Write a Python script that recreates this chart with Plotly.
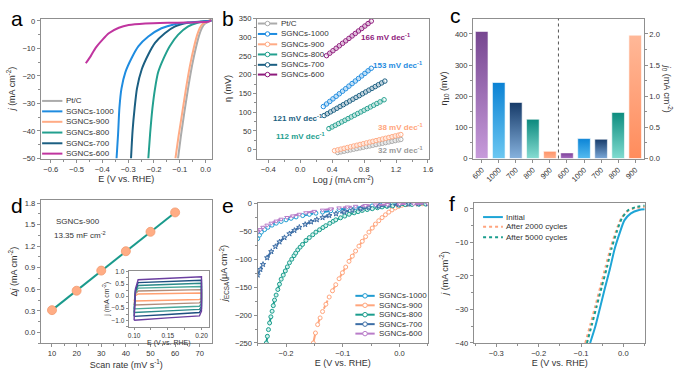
import plotly.graph_objects as go

W, H = 689, 376
FONT = "Liberation Sans, Arial, sans-serif"
FRAME = "#8f8f8f"
TXT = "#333333"


def PX(x):
    return x / W


def PY(y):
    return 1 - y / H


# ---------------- (a) LSV: E (V vs RHE), j (mA cm-2) ----------------
a_E_ptc = [-0.107, -0.096, -0.082, -0.067, -0.052, -0.037, -0.025, -0.014, -0.002, 0.012, 0.023]
a_j_ptc = [-50, -42, -33, -24, -16, -9.5, -5.2, -2.5, -1.0, -0.3, 0.5]
a_E_1000 = [-0.345, -0.339, -0.334, -0.326, -0.311, -0.286, -0.260, -0.222, -0.171, -0.120, -0.069, -0.005, 0.023]
a_j_1000 = [-50, -41, -31.7, -24.6, -18.7, -13.4, -9.2, -5.7, -2.7, -1.2, -0.6, -0.25, 0]
a_E_900 = [-0.117, -0.105, -0.090, -0.075, -0.060, -0.045, -0.033, -0.022, -0.010, 0.005, 0.023]
a_j_900 = [-50, -42, -33, -24, -16, -9.5, -5.2, -2.5, -1.0, -0.3, 0.5]
a_E_800 = [-0.222, -0.215, -0.206, -0.196, -0.184, -0.164, -0.139, -0.107, -0.069, -0.031, 0.023]
a_j_800 = [-50, -41, -31.7, -24.6, -18.7, -13.9, -9.2, -5.1, -2.1, -0.7, 0]
a_E_700 = [-0.289, -0.283, -0.275, -0.266, -0.247, -0.222, -0.196, -0.158, -0.120, -0.069, -0.018, 0.023]
a_j_700 = [-50, -40, -31.7, -24.6, -17.5, -12.2, -8.0, -4.5, -2.1, -0.7, -0.25, 0]
a_E_600 = [-0.464, -0.445, -0.426, -0.400, -0.375, -0.336, -0.298, -0.234, -0.145, -0.069, 0.008, 0.023]
a_j_600 = [-15.4, -12.8, -9.8, -6.9, -4.5, -2.5, -1.5, -0.95, -0.7, -0.6, -0.35, 0.2]

# ---------------- (b) Tafel: log j, eta (mV) ----------------
b_x_ptc = [0.47, 0.51, 0.55, 0.59, 0.63, 0.67, 0.71, 0.75, 0.79, 0.83, 0.87, 0.91, 0.95, 0.99, 1.03, 1.07, 1.11, 1.15, 1.19, 1.23, 1.26]
b_y_ptc = [-8, -6.2, -4.5, -2.7, -0.9, 0.9, 2.6, 4.4, 6.2, 8.0, 9.7, 11.5, 13.3, 15.0, 16.8, 18.6, 20.4, 22.1, 23.9, 25.7, 27.0]
b_x_900 = [0.43, 0.47, 0.51, 0.55, 0.59, 0.63, 0.67, 0.71, 0.75, 0.79, 0.83, 0.87, 0.91, 0.95, 0.99, 1.03, 1.07, 1.11, 1.15, 1.19, 1.23, 1.26]
b_y_900 = [-3, -0.9, 1.1, 3.2, 5.3, 7.4, 9.4, 11.5, 13.6, 15.6, 17.7, 19.8, 21.9, 23.9, 26.0, 28.1, 30.1, 32.2, 34.3, 36.4, 38.4, 40.0]
b_x_800 = [0.36, 0.40, 0.44, 0.48, 0.52, 0.56, 0.60, 0.64, 0.68, 0.72, 0.76, 0.80, 0.84, 0.88, 0.92, 0.96, 1.00, 1.05]
b_y_800 = [56, 60.5, 64.9, 69.4, 73.9, 78.3, 82.8, 87.3, 91.7, 96.2, 100.6, 105.1, 109.6, 114.0, 118.5, 123.0, 127.4, 133.0]
b_x_700 = [0.30, 0.34, 0.38, 0.42, 0.46, 0.50, 0.54, 0.58, 0.62, 0.66, 0.70, 0.74, 0.78, 0.82, 0.86, 0.90, 0.94, 0.98, 1.02, 1.06]
b_y_700 = [91, 95.8, 100.7, 105.5, 110.4, 115.2, 120.0, 124.9, 129.7, 134.6, 139.4, 144.2, 149.1, 153.9, 158.8, 163.6, 168.4, 173.3, 178.1, 183.0]
b_x_1000 = [0.29, 0.33, 0.37, 0.41, 0.45, 0.49, 0.53, 0.57, 0.61, 0.65, 0.69, 0.73, 0.77, 0.81, 0.85, 0.89]
b_y_1000 = [115, 121.8, 128.6, 135.5, 142.3, 149.1, 155.9, 162.7, 169.6, 176.4, 183.2, 190.0, 196.8, 203.6, 210.5, 217.3]
b_x_600 = [0.33, 0.37, 0.41, 0.45, 0.49, 0.53, 0.57, 0.61, 0.65, 0.69, 0.73, 0.77, 0.81, 0.85, 0.89]
b_y_600 = [251, 257.6, 264.2, 270.8, 277.4, 284.0, 290.6, 297.2, 303.8, 310.4, 317.0, 323.6, 330.2, 336.8, 343.4]
b_slopes = ["166", "153", "121", "112", "38", "32"]

# ---------------- (c) eta10 and j0 ----------------
c_left_cats = ["600", "1000", "700", "800", "900"]
c_eta10 = [408, 244, 180, 126, 23]
c_right_cats = ["600", "1000", "700", "800", "900"]
c_j0 = [0.09, 0.32, 0.31, 0.74, 1.98]

# ---------------- (d) double-layer capacitance ----------------
d_scan = [10, 20, 30, 40, 50, 60]
d_dj = [0.31, 0.58, 0.86, 1.13, 1.40, 1.67]
# inset CVs (E loop, j per scan rate)
cv_E = [0.100, 0.102, 0.106, 0.150, 0.197, 0.200, 0.200, 0.197, 0.150, 0.102, 0.100]
cv_j10 = [-0.20, 0.02, 0.09, 0.11, 0.13, 0.13, -0.10, -0.14, -0.17, -0.20, -0.20]
cv_j20 = [-0.37, 0.10, 0.21, 0.24, 0.27, 0.27, -0.20, -0.28, -0.32, -0.37, -0.37]
cv_j30 = [-0.53, 0.15, 0.33, 0.37, 0.40, 0.40, -0.30, -0.42, -0.47, -0.53, -0.53]
cv_j40 = [-0.68, 0.20, 0.44, 0.49, 0.53, 0.53, -0.42, -0.55, -0.61, -0.68, -0.68]
cv_j50 = [-0.84, 0.25, 0.56, 0.61, 0.66, 0.66, -0.52, -0.68, -0.76, -0.84, -0.84]
cv_j60 = [-1.00, 0.30, 0.68, 0.74, 0.80, 0.80, -0.62, -0.82, -0.90, -0.98, -1.00]

# ---------------- (e) ECSA-normalised LSV (uA cm-2) ----------------
e_E_1000 = [-0.2500, -0.2468, -0.2435, -0.2378, -0.2320, -0.2247, -0.2173, -0.2087, -0.2000, -0.1912, -0.1823, -0.1707, -0.1590, -0.1474, -0.1357, -0.1212, -0.1066, -0.0920, -0.0775, -0.0629, -0.0483, -0.0337, -0.0190, -0.0015, 0.0160, 0.0330, 0.0500]
e_j_1000 = [-62.8, -56.5, -51, -46.5, -42.4, -38.5, -35, -31.9, -29, -26.3, -23.8, -21.4, -19.2, -17.1, -15.1, -12.7, -10.5, -8.6, -7, -5.5, -4.1, -2.8, -1.7, -1.1, -0.6, -0.2, 0]
e_E_900 = [-0.1520, -0.1482, -0.1444, -0.1400, -0.1357, -0.1298, -0.1240, -0.1182, -0.1124, -0.1066, -0.1007, -0.0949, -0.0891, -0.0833, -0.0775, -0.0716, -0.0657, -0.0598, -0.0540, -0.0482, -0.0425, -0.0366, -0.0308, -0.0249, -0.0190, -0.0133, -0.0075, -0.0018, 0.0040, 0.0130, 0.0217, 0.0310, 0.0405, 0.0500]
e_j_900 = [-250, -232, -217, -205, -193.6, -180.5, -167.5, -156.4, -145.4, -134.7, -124, -113.7, -103.5, -94.2, -85, -76.2, -67.5, -59.2, -51, -43.8, -36.6, -30.6, -25, -19.9, -15.2, -11.2, -7.6, -5.0, -2.9, -1.5, -0.6, -0.3, -0.1, 0]
e_E_800 = [-0.2348, -0.2329, -0.2310, -0.2290, -0.2268, -0.2246, -0.2225, -0.2203, -0.2175, -0.2145, -0.2116, -0.2086, -0.2050, -0.2013, -0.1977, -0.1940, -0.1900, -0.1860, -0.1830, -0.1794, -0.1752, -0.1710, -0.1649, -0.1590, -0.1530, -0.1474, -0.1410, -0.1350, -0.1300, -0.1230, -0.1170, -0.1124, -0.1040, -0.0965, -0.0890, -0.0800, -0.0730, -0.0657, -0.0570, -0.0480, -0.0390, -0.0308, -0.0220, -0.0120, -0.0010, 0.0100, 0.0220, 0.0340, 0.0460]
e_j_800 = [-250, -238, -226, -214, -203, -193, -183, -173, -164, -154, -144.5, -135.5, -128.2, -120.7, -113.4, -106, -99.7, -93.4, -88.7, -83, -78, -73.2, -66, -60.9, -55.8, -51, -46.8, -42.8, -39.5, -35.3, -31.7, -29, -25.4, -22.2, -19, -16.4, -14.3, -12.2, -10.6, -9.0, -7.3, -5.8, -4.9, -3.9, -2.8, -1.7, -1.4, -1.0, -0.7]
e_E_700 = [-0.2500, -0.2453, -0.2406, -0.2333, -0.2260, -0.2188, -0.2115, -0.2028, -0.1940, -0.1853, -0.1766, -0.1663, -0.1560, -0.1458, -0.1357, -0.1240, -0.1120, -0.0977, -0.0833, -0.0687, -0.0540, -0.0365, -0.0190, -0.0017, 0.0157, 0.0330, 0.0500]
e_j_700 = [-128, -118, -109, -97, -86, -77, -68.6, -61, -54, -48, -42.4, -37.3, -32.6, -28.6, -25, -21.3, -18, -14.7, -11.7, -9.2, -7, -4.8, -2.9, -1.6, -0.6, -0.2, 0]
e_E_600 = [-0.2500, -0.2453, -0.2406, -0.2333, -0.2260, -0.2173, -0.2086, -0.1983, -0.1880, -0.1765, -0.1649, -0.1503, -0.1357, -0.1212, -0.1066, -0.0920, -0.0775, -0.0600, -0.0425, -0.0212, 0.0000, 0.0250, 0.0500]
e_j_600 = [-51, -46.5, -42.4, -38.5, -35, -31.3, -27.9, -24.8, -22, -19, -16.3, -13.8, -11.6, -9.5, -7.6, -6.1, -4.7, -3.4, -2.3, -1.5, -0.8, -0.3, 0]

# ---------------- (f) stability ----------------
f_E_init = [-0.0785, -0.067, -0.0554, -0.044, -0.032, -0.021, -0.009, 0.0023, 0.0177, 0.037, 0.050]
f_j_init = [-40, -35.4, -29.6, -23.8, -18.0, -12.1, -7.3, -3.4, -1.3, -0.3, -0.1]
f_E_2000 = [-0.090, -0.078, -0.066, -0.054, -0.042, -0.030, -0.018, -0.006, 0.008, 0.025, 0.050]
f_j_2000 = [-40, -34.5, -28.8, -23.0, -17.2, -11.5, -6.8, -3.0, -0.8, 0.2, 0.6]
f_E_5000 = [-0.086, -0.075, -0.063, -0.051, -0.039, -0.028, -0.016, -0.004, 0.010, 0.028, 0.050]
f_j_5000 = [-40, -34.8, -29.0, -23.2, -17.5, -11.8, -6.9, -2.9, -0.5, 0.5, 1.0]

# ---------------- colours ----------------
C_PT = "#ababab"
C_1000 = "#1f8ce0"
C_900 = "#ffab85"
C_800 = "#23a08f"
C_700 = "#1b5f82"
C_600a = "#c0359f"
C_600b = "#8e1a7c"
C_600e = "#b97cc9"
C_700e = "#3d6ea6"
C_1000e = "#1f9bd1"
C_INIT = "#1ea5d6"

fig = go.Figure()


def line_tr(x, y, color, xa, ya, width=2, dash=None, shape="spline"):
    return go.Scatter(x=x, y=y, mode="lines", xaxis=xa, yaxis=ya, showlegend=False,
                      hoverinfo="skip",
                      line=dict(color=color, width=width, dash=dash, shape=shape, smoothing=0.6))


# (a)
for E, j, c in [(a_E_ptc, a_j_ptc, C_PT), (a_E_900, a_j_900, C_900), (a_E_800, a_j_800, C_800),
                (a_E_700, a_j_700, C_700), (a_E_1000, a_j_1000, C_1000), (a_E_600, a_j_600, C_600a)]:
    fig.add_trace(line_tr(E, j, c, "x", "y"))

# (b)
for x, y, c in [(b_x_ptc, b_y_ptc, C_PT), (b_x_900, b_y_900, C_900), (b_x_800, b_y_800, C_800),
                (b_x_700, b_y_700, C_700), (b_x_1000, b_y_1000, C_1000), (b_x_600, b_y_600, C_600b)]:
    fig.add_trace(go.Scatter(x=x, y=y, mode="lines+markers", xaxis="x2", yaxis="y2", showlegend=False,
                             hoverinfo="skip", line=dict(color=c, width=2.6),
                             marker=dict(symbol="circle", size=4.5, color="rgba(255,255,255,0.7)",
                                         line=dict(color=c, width=1))))

# (c) gradient bars
c_left_grad = [("#c79bdb", "#764690"), ("#6cc8f2", "#0b82d4"), ("#86b2de", "#163a68"),
               ("#86dcd2", "#0b897d"), ("#ffb08e", "#ff9468")]
c_right_grad = [("#a66fc0", "#7c3f98"), ("#55bbf0", "#0b84d6"), ("#7ba8d8", "#173b6a"),
                ("#7fdcd0", "#0c8c7e"), ("#ff8c5c", "#ffb898")]
HW = 0.37
for i, (v, g) in enumerate(zip(c_eta10, c_left_grad)):
    fig.add_trace(go.Scatter(x=[i - HW, i + HW, i + HW, i - HW, i - HW], y=[0, 0, v, v, 0],
                             mode="lines", fill="toself", xaxis="x3", yaxis="y3", showlegend=False,
                             hoverinfo="skip", line=dict(color="white", width=0.6),
                             fillgradient=dict(type="vertical", colorscale=[[0, g[0]], [1, g[1]]])))
for k, (v, g) in enumerate(zip(c_j0, c_right_grad)):
    i = k + len(c_left_cats)
    fig.add_trace(go.Scatter(x=[i - HW, i + HW, i + HW, i - HW, i - HW], y=[0, 0, v, v, 0],
                             mode="lines", fill="toself", xaxis="x3", yaxis="y8", showlegend=False,
                             hoverinfo="skip", line=dict(color="white", width=0.6),
                             fillgradient=dict(type="vertical", colorscale=[[0, g[0]], [1, g[1]]])))

# (d)
fig.add_trace(go.Scatter(x=d_scan, y=d_dj, mode="lines+markers", xaxis="x4", yaxis="y4", showlegend=False,
                         hoverinfo="skip", line=dict(color="#1a9a8c", width=2),
                         marker=dict(size=9, color="#ffad85", line=dict(color="#f39a70", width=0.8))))
cv_cols = ["#ffa071", "#b08c7a", "#4aa89a", "#2b8a8a", "#1e4f80", "#6b3fa0"]
for j, c in zip([cv_j10, cv_j20, cv_j30, cv_j40, cv_j50, cv_j60], cv_cols):
    fig.add_trace(go.Scatter(x=cv_E, y=j, mode="lines", xaxis="x7", yaxis="y7", showlegend=False,
                             hoverinfo="skip", line=dict(color=c, width=1.4)))

# (e)
e_specs = [(e_E_1000, e_j_1000, C_1000e, "circle", "white"),
           (e_E_900, e_j_900, "#ffa57c", "circle", "white"),
           (e_E_800, e_j_800, "#1a9d8d", "circle", "#d5f3ee"),
           (e_E_700, e_j_700, C_700e, "star", "#cfdcec"),
           (e_E_600, e_j_600, C_600e, "triangle-down", "white")]
for E, j, c, sym, fc in e_specs:
    fig.add_trace(go.Scatter(x=E, y=j, mode="lines+markers", xaxis="x5", yaxis="y5", showlegend=False,
                             hoverinfo="skip", line=dict(color=c, width=2, dash="dash", shape="spline", smoothing=0.5),
                             marker=dict(symbol=sym, size=4, color=fc, line=dict(color=c, width=1))))

# (f)
fig.add_trace(line_tr(f_E_2000, f_j_2000, "#ffa47e", "x6", "y6", width=2, dash="dot"))
fig.add_trace(line_tr(f_E_5000, f_j_5000, "#1a9d8d", "x6", "y6", width=2, dash="dot"))
fig.add_trace(line_tr(f_E_init, f_j_init, C_INIT, "x6", "y6", width=2))


# ---------------- axes ----------------
def axis(dom, rng, dtick, mdt, anchor, tick0=0, fmt=None, title=None, fs=7.6, tfs=9, standoff=None, **kw):
    d = dict(domain=dom, range=rng, dtick=dtick, tick0=tick0, anchor=anchor,
             showline=True, linecolor=FRAME, linewidth=1.2, mirror=True,
             ticks="outside", ticklen=3, tickwidth=1, tickcolor=FRAME,
             tickfont=dict(size=fs, color=TXT, family=FONT), showgrid=False, zeroline=False,
             minor=dict(ticks="outside", ticklen=2, tickcolor=FRAME, tickwidth=1, dtick=mdt, showgrid=False))
    if fmt:
        d["tickformat"] = fmt
    if title:
        d["title"] = dict(text=title, font=dict(size=tfs, color=TXT, family=FONT))
        if standoff is not None:
            d["title"]["standoff"] = standoff
    d.update(kw)
    return d


def xd(x0, x1):
    return [PX(x0), PX(x1)]


def yd(y0, y1):
    return [PY(y1), PY(y0)]


J_T = "<i>j</i> (mA cm<sup>-2</sup>)"
E_T = "E (V vs. RHE)"
XS, YS = 2, 5

layout = dict(
    xaxis=axis(xd(38.3, 210.7), [-0.638, 0.023], 0.1, 0.05, "y", fmt=".1f", title=E_T, standoff=XS),
    yaxis=axis(yd(15, 158.3), [-50, 0.8], 10, 5, "x", title=J_T, standoff=YS),
    xaxis2=axis(xd(256.7, 430.7), [-0.54, 1.617], 0.4, 0.2, "y2", tick0=-0.4, fmt=".1f",
                title="Log <i>j</i> (mA cm<sup>-2</sup>)", standoff=XS),
    yaxis2=axis(yd(15, 158.3), [-24, 350], 50, 25, "x2", title="η (mV)", standoff=YS),
    xaxis3=axis(xd(475, 647.3), [-0.5, 9.5], 1, 0.5, "y3", tickmode="array", tickvals=list(range(10)),
                ticktext=c_left_cats + c_right_cats, tickangle=-45,
                minor=dict(ticks="")),
    yaxis3=axis(yd(15, 158.3), [0, 449], 100, 50, "x3", title="η<sub>10</sub> (mV)", standoff=YS, mirror=False),
    yaxis8=axis(yd(15, 158.3), [0, 2.245], 0.5, 0.25, "x3", fmt=".1f", overlaying="y3", side="right",
                mirror=False),
    xaxis4=axis(xd(38.3, 210.7), [5.5, 74.8], 10, 5, "y4", title="Scan rate (mV s<sup>-1</sup>)", standoff=XS),
    yaxis4=axis(yd(201, 347.5), [-0.15, 1.84], 0.3, 0.15, "x4", fmt=".1f",
                title="Δ<i>j</i> (mA cm<sup>-2</sup>)", standoff=YS),
    xaxis5=axis(xd(257.3, 429.3), [-0.25, 0.05], 0.1, 0.05, "y5", fmt=".1f", title=E_T, standoff=XS),
    yaxis5=axis(yd(204, 347.3), [-250, 1], 50, 25, "x5",
                title="<i>j</i><sub>ECSA</sub>(μA cm<sup>-2</sup>)", standoff=YS),
    xaxis6=axis(xd(475.7, 649), [-0.353, 0.052], 0.1, 0.05, "y6", fmt=".1f", title=E_T, standoff=XS),
    yaxis6=axis(yd(204, 347.3), [-40, 1.75], 10, 5, "x6", title=J_T, standoff=YS),
    xaxis7=axis(xd(127, 208), [0.092, 0.211], 0.05, 0.025, "y7", tick0=0.1, fmt=".2f", fs=6.5,
                title=E_T, tfs=7, standoff=1, ticklen=2, linewidth=1),
    yaxis7=axis(yd(273.3, 330.7), [-1.27, 1.05], 0.5, 0.25, "x7", fmt=".1f", fs=6.5,
                title="j (mA cm<sup>-2</sup>)", tfs=7, standoff=1, ticklen=2, linewidth=1),
)

shapes = []
annotations = []

# panel c divider
shapes.append(dict(type="line", xref="x3", yref="y3 domain", x0=4.5, x1=4.5, y0=0, y1=1,
                   line=dict(color="#555555", width=1, dash="dot")))

# right axis title of c
annotations.append(dict(x=PX(671), y=PY(87), xref="paper", yref="paper", showarrow=False, textangle=90,
                        xanchor="center", yanchor="middle",
                        text="<i>j</i><sub>0</sub> (mA cm<sup>-2</sup>)",
                        font=dict(size=9, color=TXT, family=FONT)))

# panel letters
for t, x, y in [("a", 6, 15), ("b", 219, 15), ("c", 450, 12), ("d", 6, 206), ("e", 219, 206.5), ("f", 449, 204.5)]:
    annotations.append(dict(x=PX(x), y=PY(y), xref="paper", yref="paper", showarrow=False, text=t,
                            xanchor="left", yanchor="middle", font=dict(size=21, color="black", family=FONT)))


def legend(entries, x0, x1, xt, ys, fs=8, marker=False, width=2):
    for (lab, col, dash), y in zip(entries, ys):
        shapes.append(dict(type="line", xref="paper", yref="paper", x0=PX(x0), x1=PX(x1), y0=PY(y), y1=PY(y),
                           line=dict(color=col, width=width, dash=dash)))
        if marker:
            xm = (x0 + x1) / 2
            shapes.append(dict(type="circle", xref="paper", yref="paper", x0=PX(xm - 2.3), x1=PX(xm + 2.3),
                               y0=PY(y + 2.3), y1=PY(y - 2.3), fillcolor="white", line=dict(color=col, width=1)))
        annotations.append(dict(x=PX(xt), y=PY(y), xref="paper", yref="paper", showarrow=False, text=lab,
                                xanchor="left", yanchor="middle", font=dict(size=fs, color=TXT, family=FONT)))


legend([("Pt/C", C_PT, None), ("SGNCs-1000", C_1000, None), ("SGNCs-900", C_900, None),
        ("SGNCs-800", C_800, None), ("SGNCs-700", C_700, None), ("SGNCs-600", C_600a, None)],
       39.5, 60, 61.5, [99.3, 110, 120.7, 131.7, 142.7, 153.3])
legend([("Pt/C", C_PT, None), ("SGNCs-1000", C_1000, None), ("SGNCs-900", C_900, None),
        ("SGNCs-800", C_800, None), ("SGNCs-700", C_700, None), ("SGNCs-600", C_600b, None)],
       257.5, 277, 278.5, [20, 30.7, 41.3, 51.7, 62.3, 72.3], marker=True)
legend([("SGNCs-1000", C_1000e, None), ("SGNCs-900", "#ffa57c", None), ("SGNCs-800", "#1a9d8d", None),
        ("SGNCs-700", C_700e, None), ("SGNCs-600", C_600e, None)],
       356, 375.5, 377.5, [299, 308.7, 318.3, 328, 337.7], marker=True)
legend([("Initial", C_INIT, None), ("After 2000 cycles", "#ffa47e", "dot"), ("After 5000 cycles", "#1a9d8d", "dot")],
       485, 505, 506.5, [218.3, 228.3, 239])

# Tafel slope labels
b_lab_pos = [(386, 33.3, C_600b), (399, 62.3, C_1000), (297.5, 117.3, C_700), (301, 135, C_800),
             (401.5, 126, "#ffa57c"), (401.5, 150, "#9a9a9a")]
for s, (x, y, c) in zip(b_slopes, b_lab_pos):
    annotations.append(dict(x=PX(x), y=PY(y), xref="paper", yref="paper", showarrow=False,
                            text=f"<b>{s} mV dec<sup>-1</sup></b>", xanchor="center", yanchor="middle",
                            font=dict(size=8, color=c, family=FONT)))

# d annotations
annotations.append(dict(x=PX(51.5), y=PY(223.3), xref="paper", yref="paper", showarrow=False, text="SGNCs-900",
                        xanchor="left", yanchor="middle", font=dict(size=8, color=TXT, family=FONT)))
annotations.append(dict(x=PX(49.5), y=PY(236.7), xref="paper", yref="paper", showarrow=False,
                        text="13.35 mF cm<sup>-2</sup>", xanchor="left", yanchor="middle",
                        font=dict(size=8, color=TXT, family=FONT)))

fig.update_layout(width=W, height=H, margin=dict(l=0, r=0, t=0, b=0), paper_bgcolor="white",
                  plot_bgcolor="rgba(0,0,0,0)", font=dict(family=FONT, color=TXT),
                  shapes=shapes, annotations=annotations, showlegend=False, **layout)

fig.write_html("out.html", config={"displayModeBar": False},
               post_script="document.body.style.margin='0px';document.body.style.overflow='hidden';")
